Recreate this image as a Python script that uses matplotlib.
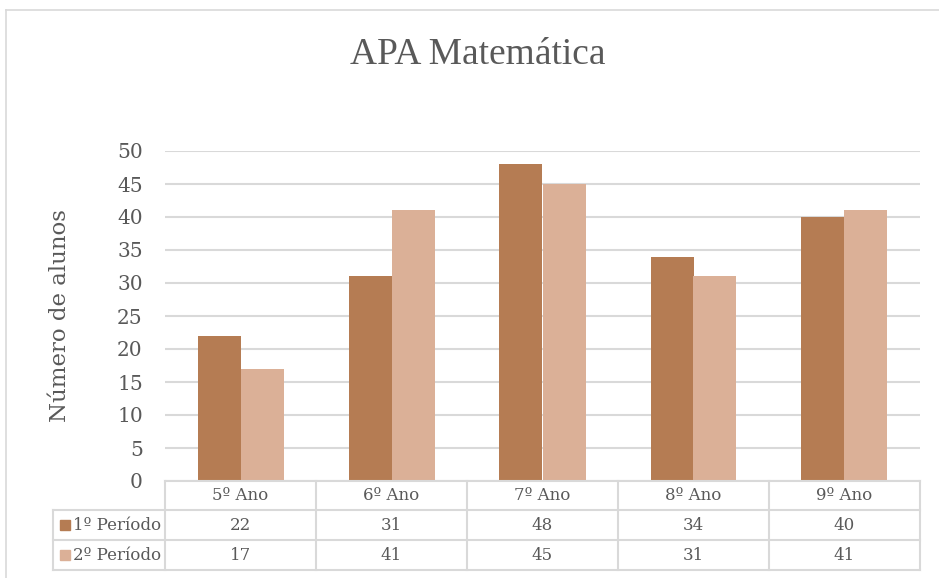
import matplotlib
matplotlib.use("Agg")
import matplotlib.pyplot as plt
from matplotlib.lines import Line2D
from matplotlib.patches import Rectangle
import numpy as np

categories = ["5º Ano", "6º Ano", "7º Ano", "8º Ano", "9º Ano"]
series_names = ["1º Período", "2º Período"]
periodo1 = [22, 31, 48, 34, 40]
periodo2 = [17, 41, 45, 31, 41]
yticks = [0, 5, 10, 15, 20, 25, 30, 35, 40, 45, 50]
title = "APA Matemática"
ylabel = "Número de alunos"

colors = ["#B57C53", "#DBB097"]
grid_c = "#D9D9D9"
text_c = "#595959"
SERIF = ["DejaVu Serif"]
TITLEF = ["Liberation Serif", "DejaVu Serif"]
plt.rcParams['font.family'] = SERIF

W, H = 939, 578
fig = plt.figure(figsize=(W / 100, H / 100), dpi=100)

def fx(x):
    return x / W

def fy(y):
    return 1 - y / H

# chart border (top and left)
fig.add_artist(Line2D([fx(6), fx(939)], [fy(10), fy(10)], color="#D9D9D9", lw=1.2))
fig.add_artist(Line2D([fx(6), fx(6)], [fy(10), fy(578)], color="#D9D9D9", lw=1.2))

L, R, T, B = 165, 920, 151, 481
ax = fig.add_axes([fx(L), fy(B), fx(R - L), (B - T) / H])
x = np.arange(len(categories))
bw = 43 / 151
ax.bar(x - bw / 2, periodo1, width=bw, color=colors[0], zorder=3)
ax.bar(x + bw / 2, periodo2, width=bw, color=colors[1], zorder=3)
ax.set_xlim(-0.5, len(categories) - 0.5)
ax.set_ylim(0, 50)
ax.set_yticks(yticks)
ax.set_yticklabels([str(t) for t in yticks], fontsize=14.5, color=text_c)
ax.set_xticks([])
ax.tick_params(axis="y", length=0, pad=16)
ax.grid(axis="y", color=grid_c, lw=1.5, zorder=0)
for s in ax.spines.values():
    s.set_visible(False)

fig.text(fx(478), fy(55), title, ha="center", va="center", fontsize=27, color=text_c, family=TITLEF)
fig.text(fx(60), fy(316), ylabel, ha="center", va="center", rotation=90, fontsize=16.5, color=text_c)

# data table
col_edges = [L + i * (R - L) / len(categories) for i in range(len(categories) + 1)]
row_y = [481, 510, 540, 570]
lw = 1.5
fig.add_artist(Line2D([fx(L), fx(R)], [fy(row_y[0]), fy(row_y[0])], color=grid_c, lw=lw))
for yy in row_y[1:]:
    fig.add_artist(Line2D([fx(53), fx(R)], [fy(yy), fy(yy)], color=grid_c, lw=lw))
for xx in col_edges:
    fig.add_artist(Line2D([fx(xx), fx(xx)], [fy(row_y[0]), fy(row_y[-1])], color=grid_c, lw=lw))
fig.add_artist(Line2D([fx(53), fx(53)], [fy(row_y[1]), fy(row_y[-1])], color=grid_c, lw=lw))

for i, c in enumerate(categories):
    cx = (col_edges[i] + col_edges[i + 1]) / 2
    fig.text(fx(cx), fy((row_y[0] + row_y[1]) / 2), c, ha="center", va="center", fontsize=12, color=text_c)

for r, (name, vals) in enumerate(zip(series_names, [periodo1, periodo2])):
    cy = (row_y[r + 1] + row_y[r + 2]) / 2
    fig.add_artist(Rectangle((fx(60), fy(cy + 5)), fx(10), 10 / H, color=colors[r]))
    fig.text(fx(73), fy(cy), name, ha="left", va="center", fontsize=12, color=text_c)
    for i, v in enumerate(vals):
        cx = (col_edges[i] + col_edges[i + 1]) / 2
        fig.text(fx(cx), fy(cy), str(v), ha="center", va="center", fontsize=12, color=text_c)

fig.savefig("out.png", dpi=100, facecolor="white")
